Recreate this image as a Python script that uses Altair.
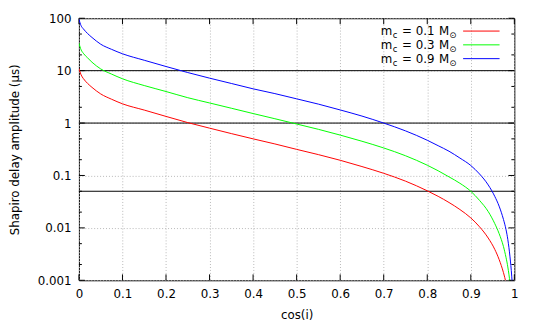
import altair as alt
import pandas as pd

# ---- data ----
cos_i = [0.0, 0.005, 0.01, 0.02, 0.03, 0.05, 0.075, 0.1,
         0.15, 0.2, 0.25, 0.3, 0.35, 0.4, 0.45, 0.5, 0.55, 0.6, 0.65, 0.7, 0.75, 0.8,
         0.825, 0.85, 0.875, 0.9, 0.92, 0.94, 0.955, 0.965, 0.975, 0.981, 0.985, 0.99,
         0.994, 0.997]
delay_mc01 = [11.0, 8.3, 7.1, 5.7, 4.8, 3.6, 2.85, 2.33,
              1.77, 1.34, 1.02, 0.80, 0.63, 0.50, 0.40, 0.315, 0.25, 0.195, 0.148, 0.110,
              0.078, 0.051,
              0.040, 0.0305, 0.0224, 0.0155, 0.0105, 0.0064, 0.0039, 0.0025, 0.0014,
              0.00088, 0.00058, 0.00028, 0.00012, 0.00005]
delay_mc03 = [33.5, 25.0, 21.5, 17.5, 14.5, 10.8, 8.6, 7.0,
              5.2, 4.0, 3.05, 2.42, 1.92, 1.52, 1.21, 0.96, 0.76, 0.59, 0.45, 0.335,
              0.238, 0.157,
              0.123, 0.094, 0.071, 0.050, 0.0335, 0.0205, 0.0121, 0.0078, 0.0044,
              0.0027, 0.0018, 0.00088, 0.00037, 0.00015]
delay_mc09 = [96.0, 72.0, 63.0, 51.0, 43.0, 32.0, 25.5, 21.0,
              15.8, 12.0, 9.2, 7.2, 5.7, 4.5, 3.65, 2.9, 2.3, 1.78, 1.36, 1.0,
              0.71, 0.47,
              0.37, 0.29, 0.215, 0.155, 0.107, 0.066, 0.040, 0.026, 0.0145,
              0.0092, 0.0060, 0.0028, 0.0012, 0.00045]
series_labels = ["0.1", "0.3", "0.9"]
series_colors = ["#ff0000", "#00ff00", "#0000ff"]
hlines = [10, 1, 0.05]
x_ticks = [0, 0.1, 0.2, 0.3, 0.4, 0.5, 0.6, 0.7, 0.8, 0.9, 1]
y_ticks = [0.001, 0.01, 0.1, 1, 10, 100]
y_minor = [0.002, 0.005, 0.02, 0.05, 0.2, 0.5, 2, 5, 20, 50]

W, H = 442, 266
FONT = "DejaVu Sans"
FS = 12

xscale = alt.Scale(domain=[0, 1], nice=False, zero=False)
yscale = alt.Scale(type="log", domain=[0.001, 100], nice=False)
xaxis = alt.Axis(values=x_ticks, format="~g", title="cos(i)", grid=True, ticks=False,
                 domain=False, labelPadding=8, titleX=W / 2, titleY=38.5,
                 titleBaseline="alphabetic", labelFlush=False)
yaxis = alt.Axis(values=y_ticks, format="~g", title="Shapiro delay amplitude (μs)",
                 grid=True, ticks=False, domain=False, labelPadding=8,
                 titleX=-61, titleY=H / 2, titleAngle=-90, titleAlign="center",
                 titleBaseline="alphabetic", labelFlush=False)


def X(field):
    return alt.X(field, type="quantitative", scale=xscale, axis=xaxis)


def Y(field):
    return alt.Y(field, type="quantitative", scale=yscale, axis=yaxis)


rows = []
for lab, vals in zip(series_labels, [delay_mc01, delay_mc03, delay_mc09]):
    for c, v in zip(cos_i, vals):
        rows.append({"cos": c, "delay": v, "series": lab})
curves_df = pd.DataFrame(rows)

curves = alt.Chart(curves_df).mark_line(clip=True, strokeWidth=1, interpolate="monotone").encode(
    x=X("cos"), y=Y("delay"),
    color=alt.Color("series:N", scale=alt.Scale(domain=series_labels, range=series_colors), legend=None),
)

hline_layer = alt.Chart(pd.DataFrame({"v": hlines})).mark_rule(color="#000000", strokeWidth=1).encode(
    y=Y("v")
)

tick_layers = []
ydf_major = pd.DataFrame({"v": y_ticks})
ydf_minor = pd.DataFrame({"v": y_minor})
xdf = pd.DataFrame({"v": x_ticks})
for df, ln in [(ydf_major, 6), (ydf_minor, 3)]:
    tick_layers.append(alt.Chart(df).mark_rule(color="#000000", strokeWidth=1).encode(
        y=Y("v"), x=alt.value(0), x2=alt.value(ln)))
    tick_layers.append(alt.Chart(df).mark_rule(color="#000000", strokeWidth=1).encode(
        y=Y("v"), x=alt.value(W - ln), x2=alt.value(W)))
tick_layers.append(alt.Chart(xdf).mark_rule(color="#000000", strokeWidth=1).encode(
    x=X("v"), y=alt.value(H - 6), y2=alt.value(H)))
tick_layers.append(alt.Chart(xdf).mark_rule(color="#000000", strokeWidth=1).encode(
    x=X("v"), y=alt.value(0), y2=alt.value(6)))

# ---- legend (manual, with subscripts) ----
legend_layers = []
one = pd.DataFrame({"a": [0]})
row_base = [17.5, 31.5, 45.5]
for lab, col, yb in zip(series_labels, series_colors, row_base):
    pieces = [("m", 306.5, 0, FS), ("c", 318.5, 3, 8.5), ("= " + lab, 328.0, 0, FS),
              ("M", 365.5, 0, FS), ("⊙", 376.0, 3, 8.5)]
    for txt, px, dy, fs in pieces:
        legend_layers.append(alt.Chart(one).mark_text(
            text=txt, align="left", baseline="alphabetic", font=FONT, fontSize=fs, color="#000000"
        ).encode(x=alt.value(px), y=alt.value(yb + dy)))
    legend_layers.append(alt.Chart(one).mark_rule(color=col, strokeWidth=1).encode(
        x=alt.value(390), x2=alt.value(427), y=alt.value(yb - 4.5)))

chart = alt.layer(hline_layer, *tick_layers, curves, *legend_layers).properties(
    width=W, height=H,
    autosize=alt.AutoSizeParams(type="none"),
    padding={"left": 72, "top": 8, "right": 23, "bottom": 45},
).configure_view(
    stroke="#000000", strokeWidth=1
).configure_axis(
    labelFont=FONT, labelFontSize=FS, labelColor="#000000",
    titleFont=FONT, titleFontSize=FS, titleFontWeight="normal", titleColor="#000000",
    gridColor="#b8b8b8", gridDash=[1, 2], gridWidth=1,
)

chart.save("out.html", embed_options={"renderer": "svg", "actions": False})
